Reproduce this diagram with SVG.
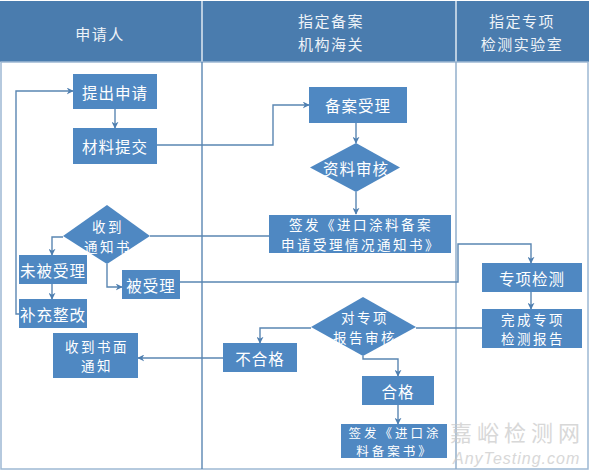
<svg xmlns="http://www.w3.org/2000/svg" width="592" height="471" viewBox="0 0 592 471">
<defs>
<marker id="arr" viewBox="0 0 10 10" refX="9" refY="5" markerWidth="7" markerHeight="7" orient="auto" markerUnits="userSpaceOnUse">
<path d="M0,0 L10,5 L0,10 L3,5 Z" fill="#4f7fb0"/>
</marker>
<style>
.hdr{fill:#4a7cae}
.hdrt{fill:#eef3f8;font-family:"Noto Sans CJK SC","Noto Sans",sans-serif;font-size:15px;letter-spacing:1.5px;text-anchor:middle;dominant-baseline:central}
.box{fill:#4f88c2}
.t{fill:#ffffff;font-family:"Noto Sans CJK SC","Noto Sans",sans-serif;font-size:15.5px;letter-spacing:1px;text-anchor:middle;dominant-baseline:central}
.t2{fill:#ffffff;font-family:"Noto Sans CJK SC","Noto Sans",sans-serif;font-size:13.5px;letter-spacing:2.5px;text-anchor:middle;dominant-baseline:central}
.ln{fill:none;stroke:#5a86b2;stroke-width:1.4}
.lna{fill:none;stroke:#5a86b2;stroke-width:1.4;marker-end:url(#arr)}
.frame{fill:none;stroke:#9db8d3;stroke-width:1.5}
.wm{fill:#c8c8c8;opacity:0.7;font-family:"Noto Sans CJK SC","Noto Sans",sans-serif}
</style>
</defs>
<rect x="0" y="0" width="592" height="471" fill="#ffffff"/>
<g id="header">
<rect class="hdr" x="0" y="1" width="589" height="61"/>
<line x1="202" y1="1" x2="202" y2="62" stroke="#dfe8f2" stroke-width="1.5"/>
<line x1="456" y1="1" x2="456" y2="62" stroke="#dfe8f2" stroke-width="1.5"/>
<text class="hdrt" x="100" y="33">申请人</text>
<text class="hdrt" x="331" y="20">指定备案<tspan x="331" dy="22.5">机构海关</tspan></text>
<text class="hdrt" x="522" y="20">指定专项<tspan x="522" dy="22.5">检测实验室</tspan></text>
</g>
<g id="lanes">
<rect class="frame" x="1" y="62" width="587" height="407"/>
<line x1="202" y1="62" x2="202" y2="469" stroke="#5a86b2" stroke-width="1.4"/>
<line x1="456" y1="62" x2="456" y2="469" stroke="#8aa9c8" stroke-width="1.4"/>
</g>
<g id="connectors">
<line class="lna" x1="115" y1="109" x2="115" y2="128"/>
<polyline class="lna" points="157,145 273,145 273,105 309,105"/>
<line class="lna" x1="356" y1="123" x2="356" y2="143"/>
<line class="lna" x1="356" y1="192" x2="356" y2="214"/>
<line class="ln" x1="269" y1="236" x2="150" y2="236"/>
<polyline class="lna" points="63,237 52,237 52,255"/>
<line class="lna" x1="52" y1="284" x2="52" y2="299"/>
<polyline class="lna" points="19,314 16,314 16,91 73,91"/>
<polyline class="lna" points="107,264 107,287 122,287"/>
<polyline class="lna" points="180,282 458,282 458,244 531,244 531,263"/>
<line class="lna" x1="531" y1="292" x2="531" y2="309"/>
<line class="ln" x1="482" y1="328" x2="416" y2="328"/>
<polyline class="lna" points="311,328 260,328 260,343"/>
<line class="lna" x1="223" y1="358" x2="138" y2="358"/>
<polyline class="lna" points="363,356 363,359 398,359 398,376"/>
<line class="lna" x1="398" y1="405" x2="398" y2="424"/>
</g>
<g id="n1"><rect class="box" x="73" y="74" width="84" height="35"/><text class="t" x="115" y="91.5">提出申请</text></g>
<g id="n2"><rect class="box" x="73" y="128" width="84" height="36"/><text class="t" x="115" y="146">材料提交</text></g>
<g id="n3"><rect class="box" x="309" y="87" width="98" height="36"/><text class="t" x="358" y="105">备案受理</text></g>
<g id="n4"><polygon class="box" points="356,143 400,167.5 356,192 310,167.5"/><text class="t" x="356" y="167.5">资料审核</text></g>
<g id="n5"><rect class="box" x="269" y="215" width="182" height="38"/><text class="t2" x="361" y="224.25">签发《进口涂料备案<tspan x="361" dy="19.5">申请受理情况通知书》</tspan></text></g>
<g id="n6"><polygon class="box" points="107,205 150,236 107,264 63,236"/><text class="t2" x="108" y="226">收到<tspan x="108" dy="19.5">通知书</tspan></text></g>
<g id="n7"><rect class="box" x="19" y="255" width="68" height="29"/><text class="t" x="53" y="269.5">未被受理</text></g>
<g id="n8"><rect class="box" x="19" y="299" width="68" height="29"/><text class="t" x="53" y="313.5">补充整改</text></g>
<g id="n9"><rect class="box" x="122" y="270" width="58" height="29"/><text class="t" x="151" y="284.5">被受理</text></g>
<g id="n10"><rect class="box" x="482" y="263" width="100" height="29"/><text class="t" x="532" y="277.5">专项检测</text></g>
<g id="n11"><rect class="box" x="482" y="309" width="100" height="39"/><text class="t2" x="533" y="318.75">完成专项<tspan x="533" dy="19.5">检测报告</tspan></text></g>
<g id="n12"><polygon class="box" points="363,297 416,327 363,356 311,327"/><text class="t2" x="365" y="317">对专项<tspan x="365" dy="19.5">报告审核</tspan></text></g>
<g id="n13"><rect class="box" x="223" y="343" width="74" height="29"/><text class="t" x="260" y="357.5">不合格</text></g>
<g id="n14"><rect class="box" x="53" y="333" width="85" height="45"/><text class="t2" x="97" y="345.75">收到书面<tspan x="97" dy="19.5">通知</tspan></text></g>
<g id="n15"><rect class="box" x="362" y="376" width="72" height="29"/><text class="t" x="398" y="390.5">合格</text></g>
<g id="n16"><rect class="box" x="341" y="424" width="106" height="34"/><text class="t2" x="395" y="432" style="font-size:12.5px;letter-spacing:3px">签发《进口涂<tspan x="395" dy="18.2">料备案书》</tspan></text></g>
<g id="watermark">
<text class="wm" x="450" y="431" font-size="22" letter-spacing="5" dominant-baseline="central">嘉峪检测网<tspan x="453" dy="27" font-size="16" font-style="italic" font-family="Liberation Sans, sans-serif" letter-spacing="1">AnyTesting.com</tspan></text>
</g>
</svg>
